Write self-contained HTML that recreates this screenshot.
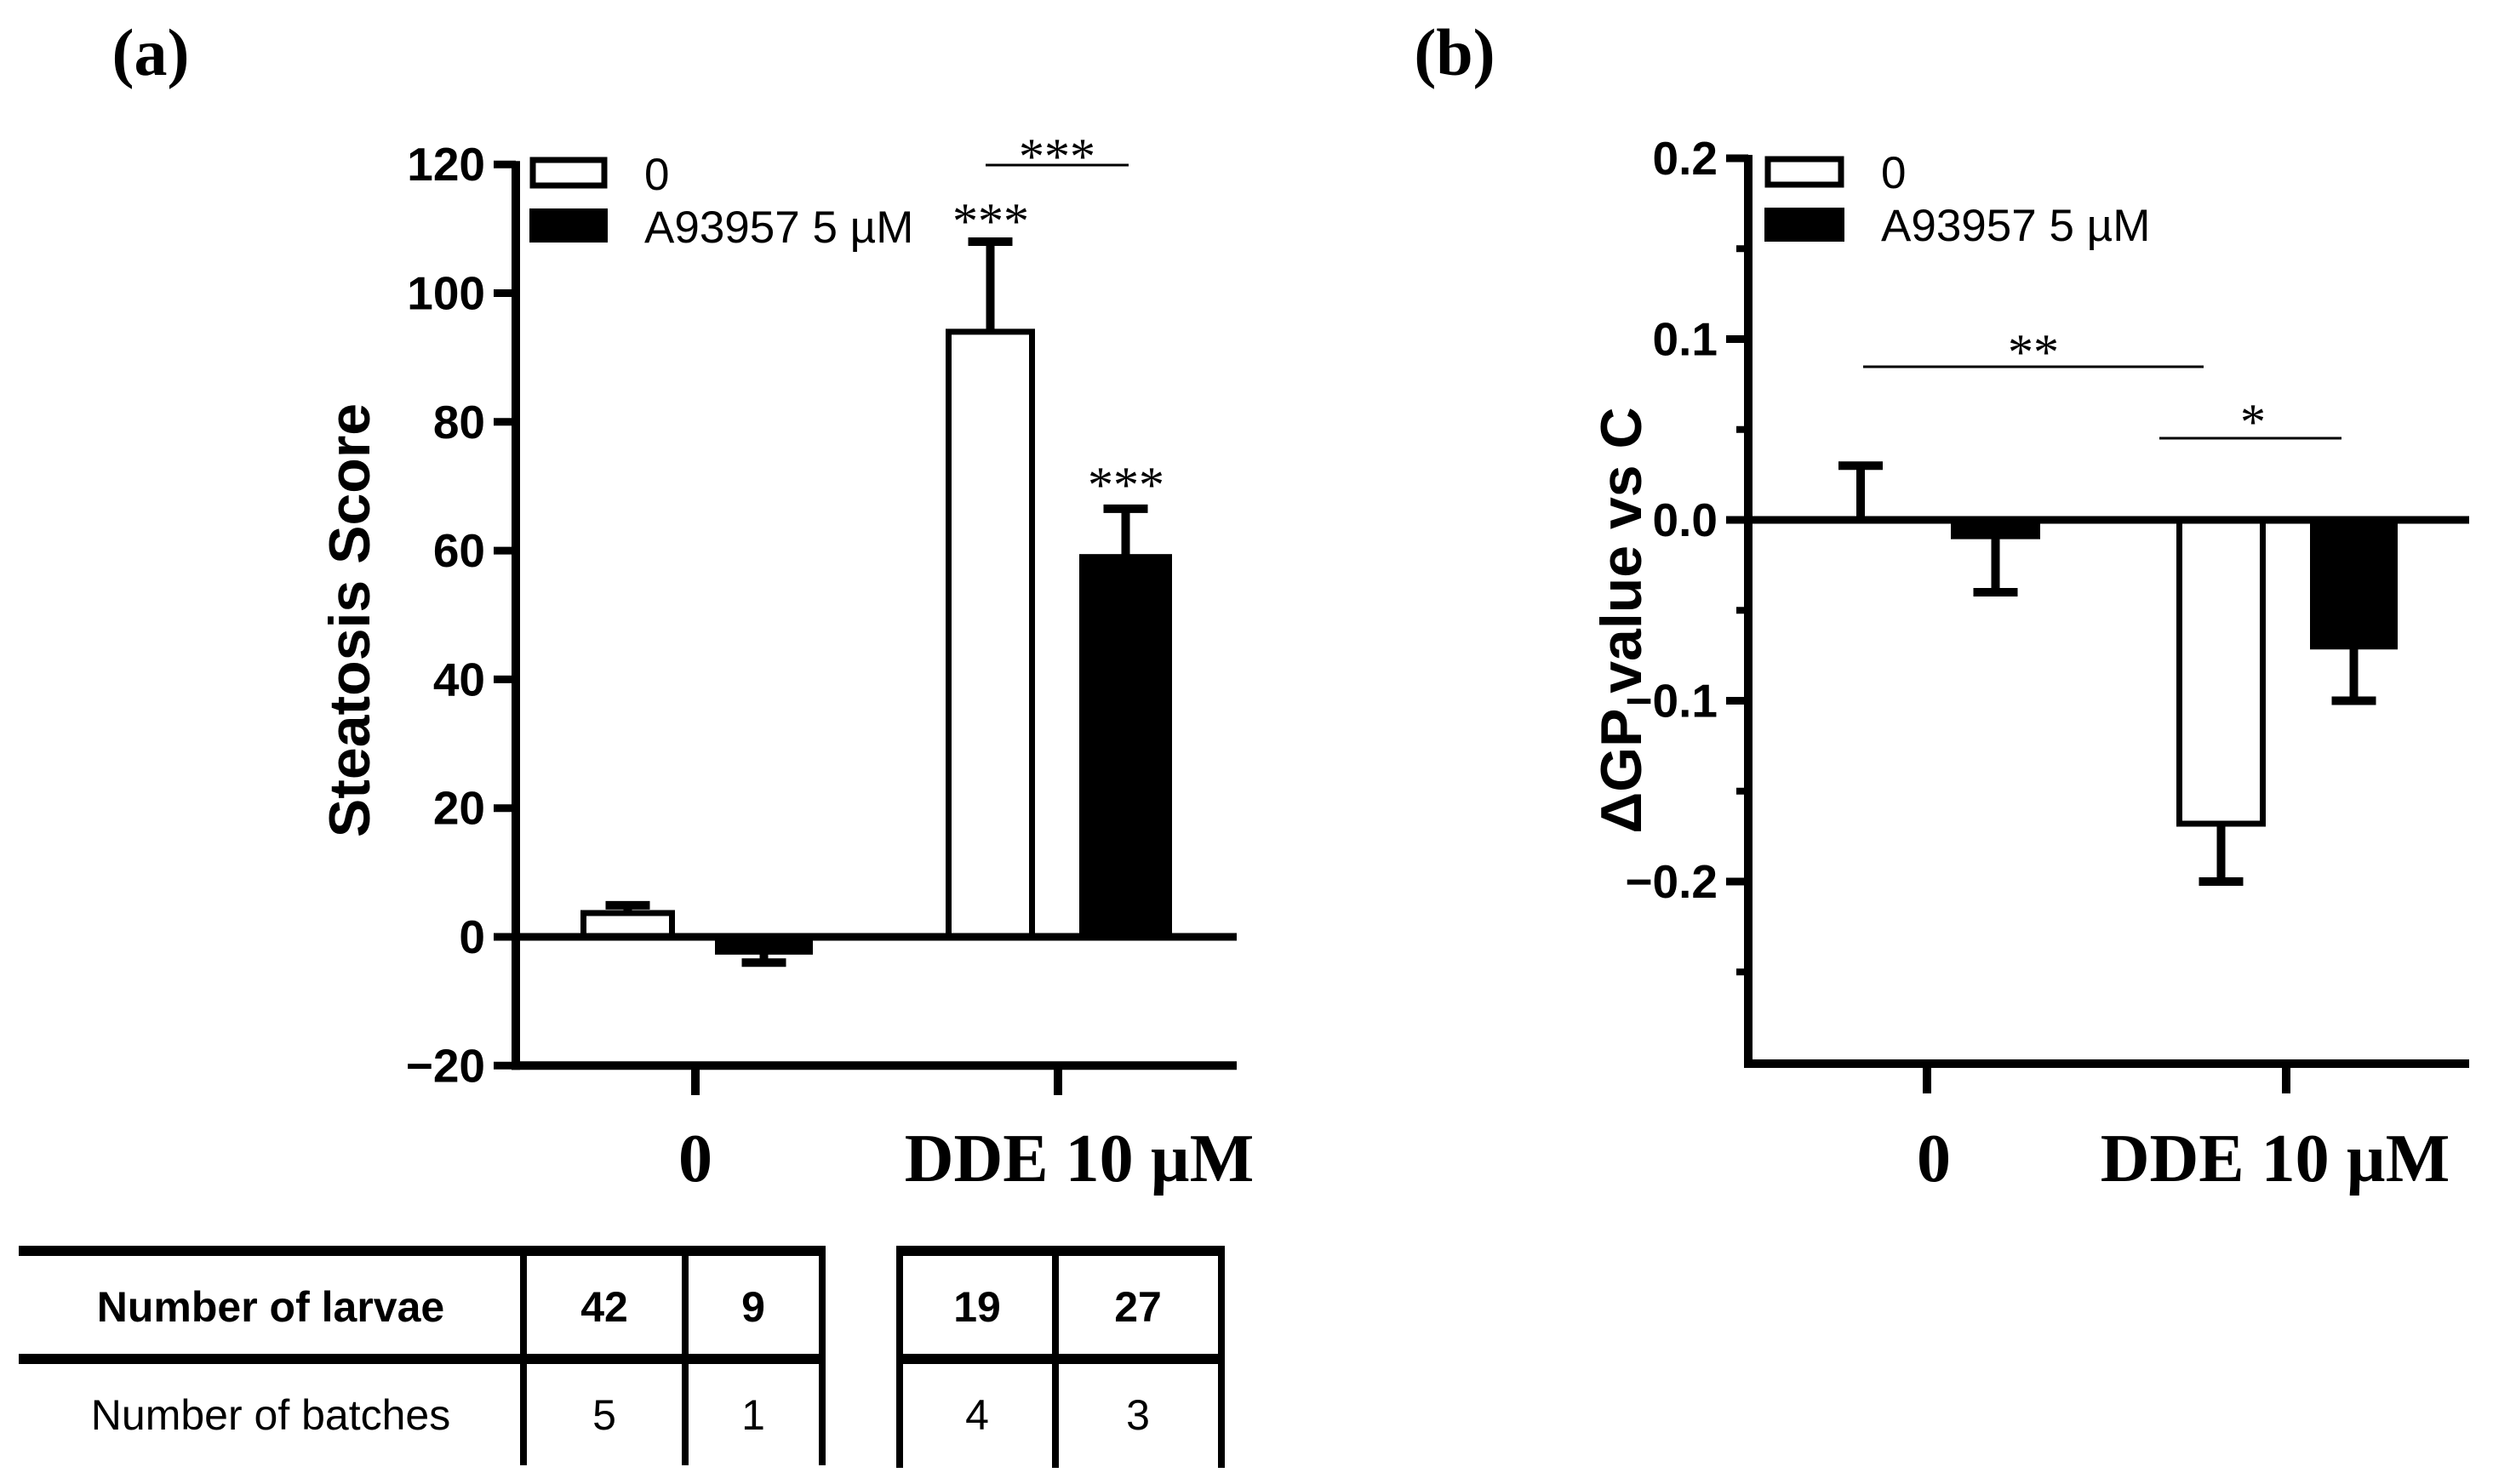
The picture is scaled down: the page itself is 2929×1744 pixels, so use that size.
<!DOCTYPE html>
<html><head><meta charset="utf-8"><style>
html,body{margin:0;padding:0;background:#fff}
svg{display:block}
.tk{font-family:"Liberation Sans",sans-serif;font-weight:bold;font-size:55px}
.lg{font-family:"Liberation Sans",sans-serif;font-size:53px}
.xl{font-family:"Liberation Serif",serif;font-weight:bold;font-size:80px}
.yt{font-family:"Liberation Sans",sans-serif;font-weight:bold;font-size:68px}
.st{font-family:"Liberation Serif",serif;font-size:60px}
.tb{font-family:"Liberation Sans Narrow","Liberation Sans",sans-serif;font-size:50px}
</style></head><body>
<svg id="fig" width="2929" height="1744" viewBox="0 0 2929 1744" xmlns="http://www.w3.org/2000/svg">
<text x="177" y="88" class="xl" style="font-size:78px" text-anchor="middle">(a)</text>
<text x="1709" y="88" class="xl" style="font-size:78px" text-anchor="middle">(b)</text>
<g id="pa"></g>
<g id="pb"></g>
<g id="tbl"></g>
</svg>
<script>
const NS="http://www.w3.org/2000/svg";
// Panel A data
const aCats=["0","DDE 10 µM"];
const aOpen=[3.7,94];
const aOpenErr=[4.9,108];
const aFilled=[-2.3,59];
const aFilledErr=[-4,66.5];
const aTicks=[120,100,80,60,40,20,0,-20];
// Panel B data
const bCats=["0","DDE 10 µM"];
const bOpen=[0,-0.168];
const bOpenErr=[0.03,-0.2];
const bFilled=[-0.009,-0.07];
const bFilledErr=[-0.04,-0.1];
const bTicks=[0.2,0.1,0.0,-0.1,-0.2];
const bMinor=[0.15,0.05,-0.05,-0.15,-0.25];
const bTickLabels=["0.2","0.1","0.0","\u22120.1","\u22120.2"];
// Table data
const rowLabels=["Number of larvae","Number of batches"];
const larvae=[42,9,19,27];
const batches=[5,1,4,3];

function el(p,tag,at,txt){const e=document.createElementNS(NS,tag);for(const k in at)e.setAttribute(k,at[k]);if(txt!==undefined)e.textContent=txt;p.appendChild(e);return e;}
const ya=v=>1101+(-v)*(151.3/20);
const yb=v=>611+(-v)*(212.5/0.1);

function bar(g,x0,x1,y0,v,filled,name){
  const top=Math.min(y0,v),h=Math.abs(v-y0);
  const r=el(g,'rect',{x:x0+3.5,y:top,width:x1-x0-7,height:Math.max(h,0.1),fill:filled?'#000':'#fff',stroke:'#000','stroke-width':h>0?7:0});
  
  
}
function err(g,xc,y0,ye,name){
  const ge=el(g,'g',{});
  
  
  el(ge,'line',{x1:xc,x2:xc,y1:y0,y2:ye,stroke:'#000','stroke-width':10});
  el(ge,'line',{x1:xc-26,x2:xc+26,y1:ye,y2:ye,stroke:'#000','stroke-width':10});
}

// ---- Panel A
const A=document.getElementById('pa');
const aOpenX=[[682,793],[1111,1216]], aFillX=[[840,955],[1268,1377]];
aOpen.forEach((v,i)=>{const xc=(aOpenX[i][0]+aOpenX[i][1])/2;err(A,xc,ya(v),ya(aOpenErr[i]),'error-bar-a-open-'+i);});
aFilled.forEach((v,i)=>{const xc=(aFillX[i][0]+aFillX[i][1])/2;err(A,xc,ya(v),ya(aFilledErr[i]),'error-bar-a-filled-'+i);});
aOpen.forEach((v,i)=>bar(A,aOpenX[i][0],aOpenX[i][1],ya(0),ya(v),false,'bar-a-control-'+i));
aFilled.forEach((v,i)=>bar(A,aFillX[i][0],aFillX[i][1],ya(0),ya(v),true,'bar-a-a93957-'+i));
el(A,'line',{x1:606,x2:606,y1:ya(120)-4,y2:ya(-20)+5,stroke:'#000','stroke-width':10});
el(A,'line',{x1:601,x2:1453,y1:ya(0),y2:ya(0),stroke:'#000','stroke-width':9});
el(A,'line',{x1:601,x2:1453,y1:ya(-20),y2:ya(-20),stroke:'#000','stroke-width':10});
aTicks.forEach(t=>{
  el(A,'line',{x1:580,x2:606,y1:ya(t),y2:ya(t),stroke:'#000','stroke-width':9});
  const tx=el(A,'text',{x:570,y:ya(t)+19,class:'tk','text-anchor':'end'},t<0?'\u2212'+(-t):String(t));
  
  
});
[817,1243].forEach((x,i)=>{
  el(A,'line',{x1:x,x2:x,y1:ya(-20),y2:1287,stroke:'#000','stroke-width':10});
  const tx=el(A,'text',{x:i?1268:x,y:1388,class:'xl','text-anchor':'middle'},aCats[i]);
  
  
});
el(A,'text',{transform:'translate(434,729) rotate(-90)',class:'yt','text-anchor':'middle',},'Steatosis Score');
el(A,'rect',{x:626,y:188,width:84,height:30,fill:'#fff',stroke:'#000','stroke-width':7,});
el(A,'rect',{x:622,y:245,width:92,height:40,fill:'#000',});
el(A,'text',{x:757,y:223,class:'lg',},'0');
el(A,'text',{x:757,y:285,class:'lg',},'A93957 5 µM');
el(A,'line',{x1:1158,x2:1326,y1:194,y2:194,stroke:'#000','stroke-width':3});
el(A,'text',{x:1242,y:204,class:'st','text-anchor':'middle',},'***');
el(A,'text',{x:1164,y:280,class:'st','text-anchor':'middle',},'***');
el(A,'text',{x:1323,y:590,class:'st','text-anchor':'middle',},'***');

// ---- Panel B
const B=document.getElementById('pb');
const bOpenX=[[2136,2236],[2557,2662]], bFillX=[[2292,2397],[2714,2817]];
bOpen.forEach((v,i)=>{const xc=(bOpenX[i][0]+bOpenX[i][1])/2;err(B,xc,yb(v),yb(bOpenErr[i]),'error-bar-b-open-'+i);});
bFilled.forEach((v,i)=>{const xc=(bFillX[i][0]+bFillX[i][1])/2;err(B,xc,yb(v),yb(bFilledErr[i]),'error-bar-b-filled-'+i);});
bOpen.forEach((v,i)=>bar(B,bOpenX[i][0],bOpenX[i][1],yb(0),yb(v),false,'bar-b-control-'+i));
bFilled.forEach((v,i)=>bar(B,bFillX[i][0],bFillX[i][1],yb(0),yb(v),true,'bar-b-a93957-'+i));
el(B,'line',{x1:2054,x2:2054,y1:yb(0.2)-4,y2:1255,stroke:'#000','stroke-width':10});
el(B,'line',{x1:2049,x2:2901,y1:yb(0),y2:yb(0),stroke:'#000','stroke-width':9});
el(B,'line',{x1:2049,x2:2901,y1:1250,y2:1250,stroke:'#000','stroke-width':10});
bTicks.forEach((t,i)=>{
  el(B,'line',{x1:2028,x2:2054,y1:yb(t),y2:yb(t),stroke:'#000','stroke-width':9});
  const tx=el(B,'text',{x:2018,y:yb(t)+19,class:'tk','text-anchor':'end'},bTickLabels[i]);
  
  
});
bMinor.forEach(t=>el(B,'line',{x1:2040,x2:2054,y1:yb(t),y2:yb(t),stroke:'#000','stroke-width':8}));
[2264,2686].forEach((x,i)=>{
  el(B,'line',{x1:x,x2:x,y1:1250,y2:1285,stroke:'#000','stroke-width':10});
  const tx=el(B,'text',{x:i?2673:2272,y:1388,class:'xl','text-anchor':'middle'},bCats[i]);
  
  
});
el(B,'text',{transform:'translate(1928,729) rotate(-90)',class:'yt','text-anchor':'middle',},'\u0394GP value vs C');
el(B,'rect',{x:2077,y:187,width:86,height:30,fill:'#fff',stroke:'#000','stroke-width':7,});
el(B,'rect',{x:2073,y:244,width:94,height:40,fill:'#000',});
el(B,'text',{x:2210,y:221,class:'lg',},'0');
el(B,'text',{x:2210,y:283,class:'lg',},'A93957 5 µM');
el(B,'line',{x1:2189,x2:2589,y1:431,y2:431,stroke:'#000','stroke-width':3});
el(B,'text',{x:2389,y:434,class:'st','text-anchor':'middle',},'**');
el(B,'line',{x1:2537,x2:2751,y1:515,y2:515,stroke:'#000','stroke-width':3});
el(B,'text',{x:2647,y:516,class:'st','text-anchor':'middle',},'*');

// ---- Table
const T=document.getElementById('tbl');
const L=(x1,y1,x2,y2,w)=>el(T,'line',{x1,y1,x2,y2,stroke:'#000','stroke-width':w});
L(22,1470,970,1470,12); L(22,1597,970,1597,12);
L(615,1464,615,1722,8); L(805,1464,805,1722,8); L(966,1464,966,1722,8);
L(1053,1470,1439,1470,12); L(1053,1597,1439,1597,12);
L(1057,1464,1057,1725,8); L(1240,1464,1240,1725,8); L(1435,1464,1435,1725,8);
const colX=[710,885,1148,1337];
rowLabels.forEach((r,i)=>{
  const t=el(T,'text',{x:318,y:i?1680:1553,class:'tb','text-anchor':'middle','font-weight':i?'normal':'bold'},r);
  
  
});
larvae.forEach((v,i)=>{
  const t=el(T,'text',{x:colX[i],y:1553,class:'tb','text-anchor':'middle','font-weight':'bold'},String(v));
  
  
});
batches.forEach((v,i)=>{
  const t=el(T,'text',{x:colX[i],y:1680,class:'tb','text-anchor':'middle'},String(v));
  
  
});
</script>
</body></html>
